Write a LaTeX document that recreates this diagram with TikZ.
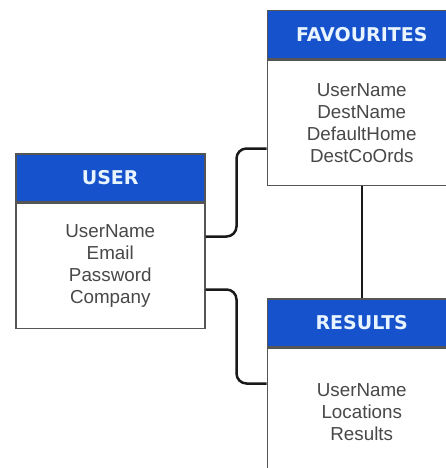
\documentclass[tikz,border=0pt]{standalone}
\usepackage{fontspec}
\setmainfont{Liberation Sans}
\newfontfamily\hdrfont{DejaVu Sans}
\definecolor{hdrblue}{RGB}{22,82,204}
\definecolor{hdrtext}{RGB}{232,244,255}
\definecolor{boxline}{RGB}{85,85,85}
\definecolor{bodytext}{RGB}{72,72,72}
\begin{document}
\begin{tikzpicture}[x=1pt,y=-1pt,
  hdr/.style={draw=boxline, line width=1.5pt, fill=hdrblue, text=hdrtext,
    font=\hdrfont\bfseries\fontsize{19}{22}\selectfont,
    minimum width=189pt, minimum height=48pt, inner sep=0pt, anchor=north west},
  bodybox/.style={draw=boxline, line width=1.5pt, fill=white, text=bodytext,
    font=\fontsize{18.8}{22}\selectfont, align=center,
    minimum width=189pt, inner sep=0pt, anchor=north west},
  conn/.style={draw=black!90, line width=2.5pt, rounded corners=10pt}]
\fill[white] (0,0) rectangle (446,468);
\useasboundingbox (0,0) rectangle (446,468);
% USER
\node[hdr] (userh) at (15,153) {USER};
\node[bodybox, minimum height=125pt] (userb) at (userh.south west) {UserName\\Email\\Password\\Company};
% FAVOURITES
\node[hdr] (favh) at (266.5,10) {FAVOURITES};
\node[bodybox, minimum height=125pt] (favb) at (favh.south west) {UserName\\DestName\\DefaultHome\\DestCoOrds};
% RESULTS
\node[hdr] (resh) at (266.5,298) {RESULTS};
\node[bodybox, minimum height=128pt] (resb) at (resh.south west) {UserName\\Locations\\Results};
% connectors
\draw[conn] ([yshift=-34pt]userb.north east) -- ++(31,0) |- ([yshift=-89pt]favb.north west);
\draw[conn] ([yshift=-87pt]userb.north east) -- ++(31,0) |- ([yshift=-36pt]resb.north west);
\draw[draw=black!90, line width=2.5pt] (favb.south) -- (resh.north);
\end{tikzpicture}
\end{document}
